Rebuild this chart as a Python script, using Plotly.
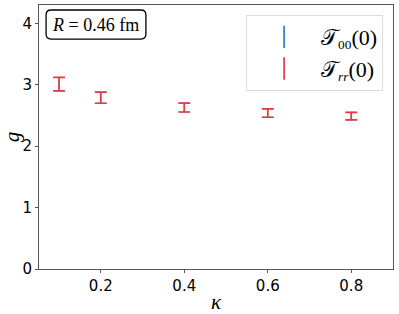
import plotly.graph_objects as go

kappa = [0.1, 0.2, 0.4, 0.6, 0.8]
g_t00 = [3.01, 2.79, 2.63, 2.54, 2.49]
err_t00 = [0.11, 0.09, 0.073, 0.068, 0.062]
g_trr = [3.01, 2.79, 2.63, 2.54, 2.49]
err_trr = [0.11, 0.09, 0.073, 0.068, 0.062]

BLUE = "#2e82c4"
RED = "#e43a44"
SERIF = "Liberation Serif"
SANS = "DejaVu Sans"

fig = go.Figure()
for y, e, col, name, th, w in [
        (g_t00, err_t00, BLUE, "𝒯<span style='font-size:19px'><sub>00</sub></span>(0)", 0.8, 5),
        (g_trr, err_trr, RED, "𝒯<span style='font-size:19px'><sub><i>rr</i></sub></span>(0)", 1.7, 6)]:
    fig.add_trace(go.Scatter(
        x=kappa, y=y, mode="markers", marker=dict(size=0.1, color=col, opacity=0),
        error_y=dict(type="data", array=e, color=col, thickness=th, width=w),
        showlegend=False, hoverinfo="skip"))
    fig.add_trace(go.Scatter(
        x=[None], y=[None], mode="markers", name=name,
        marker=dict(symbol="line-ns-open", size=22, color=col, line=dict(width=1.7, color=col))))

# rounded box around the R label (paper coords)
x0, x1, y0, y1, rx, ry = 0.020, 0.302, 0.871, 0.981, 0.014, 0.019
rounded = (f"M {x0+rx},{y0} L {x1-rx},{y0} Q {x1},{y0} {x1},{y0+ry} "
           f"L {x1},{y1-ry} Q {x1},{y1} {x1-rx},{y1} L {x0+rx},{y1} "
           f"Q {x0},{y1} {x0},{y1-ry} L {x0},{y0+ry} Q {x0},{y0} {x0+rx},{y0} Z")

fig.update_layout(
    width=399, height=314,
    margin=dict(l=39, r=6, t=5, b=45),
    paper_bgcolor="white", plot_bgcolor="white",
    showlegend=True,
    legend=dict(x=0.972, y=0.962, xanchor="right", yanchor="top",
                bgcolor="rgba(255,255,255,0.8)", bordercolor="#dddddd", borderwidth=1,
                font=dict(family=SERIF, size=22, color="black"),
                itemwidth=64, tracegroupgap=0),
    xaxis=dict(range=[0.052, 0.9], tickvals=[0.2, 0.4, 0.6, 0.8], ticktext=["0.2", "0.4", "0.6", "0.8"],
               automargin=False,
               showgrid=False, zeroline=False, showline=True, linecolor="#555555", linewidth=1,
               mirror=True, ticks="outside", ticklen=3, tickcolor="#555555",
               tickfont=dict(family=SANS, size=15, color="black"),
               title=dict(text="<i>κ</i>", font=dict(family=SERIF, size=21, color="black"), standoff=4)),
    yaxis=dict(range=[0, 4.3], tickvals=[0, 1, 2, 3, 4],
               automargin=False,
               showgrid=False, zeroline=False, showline=True, linecolor="#555555", linewidth=1,
               mirror=True, ticks="outside", ticklen=3, tickcolor="#555555",
               tickfont=dict(family=SANS, size=15, color="black"),
               title=dict(text="<i>g</i>", font=dict(family=SERIF, size=21, color="black"), standoff=6)),
    shapes=[dict(type="path", path=rounded, xref="paper", yref="paper",
                 line=dict(color="black", width=1.3), fillcolor="white", layer="above")],
    annotations=[dict(x=(x0 + x1) / 2, y=(y0 + y1) / 2, xref="paper", yref="paper",
                      xanchor="center", yanchor="middle",
                      text="<i>R</i> = 0.46 fm", showarrow=False,
                      font=dict(family=SERIF, size=18, color="black"))],
)

fig.write_html("out.html", config={"displayModeBar": False},
               post_script="document.body.style.margin='0';document.body.style.overflow='hidden';")
